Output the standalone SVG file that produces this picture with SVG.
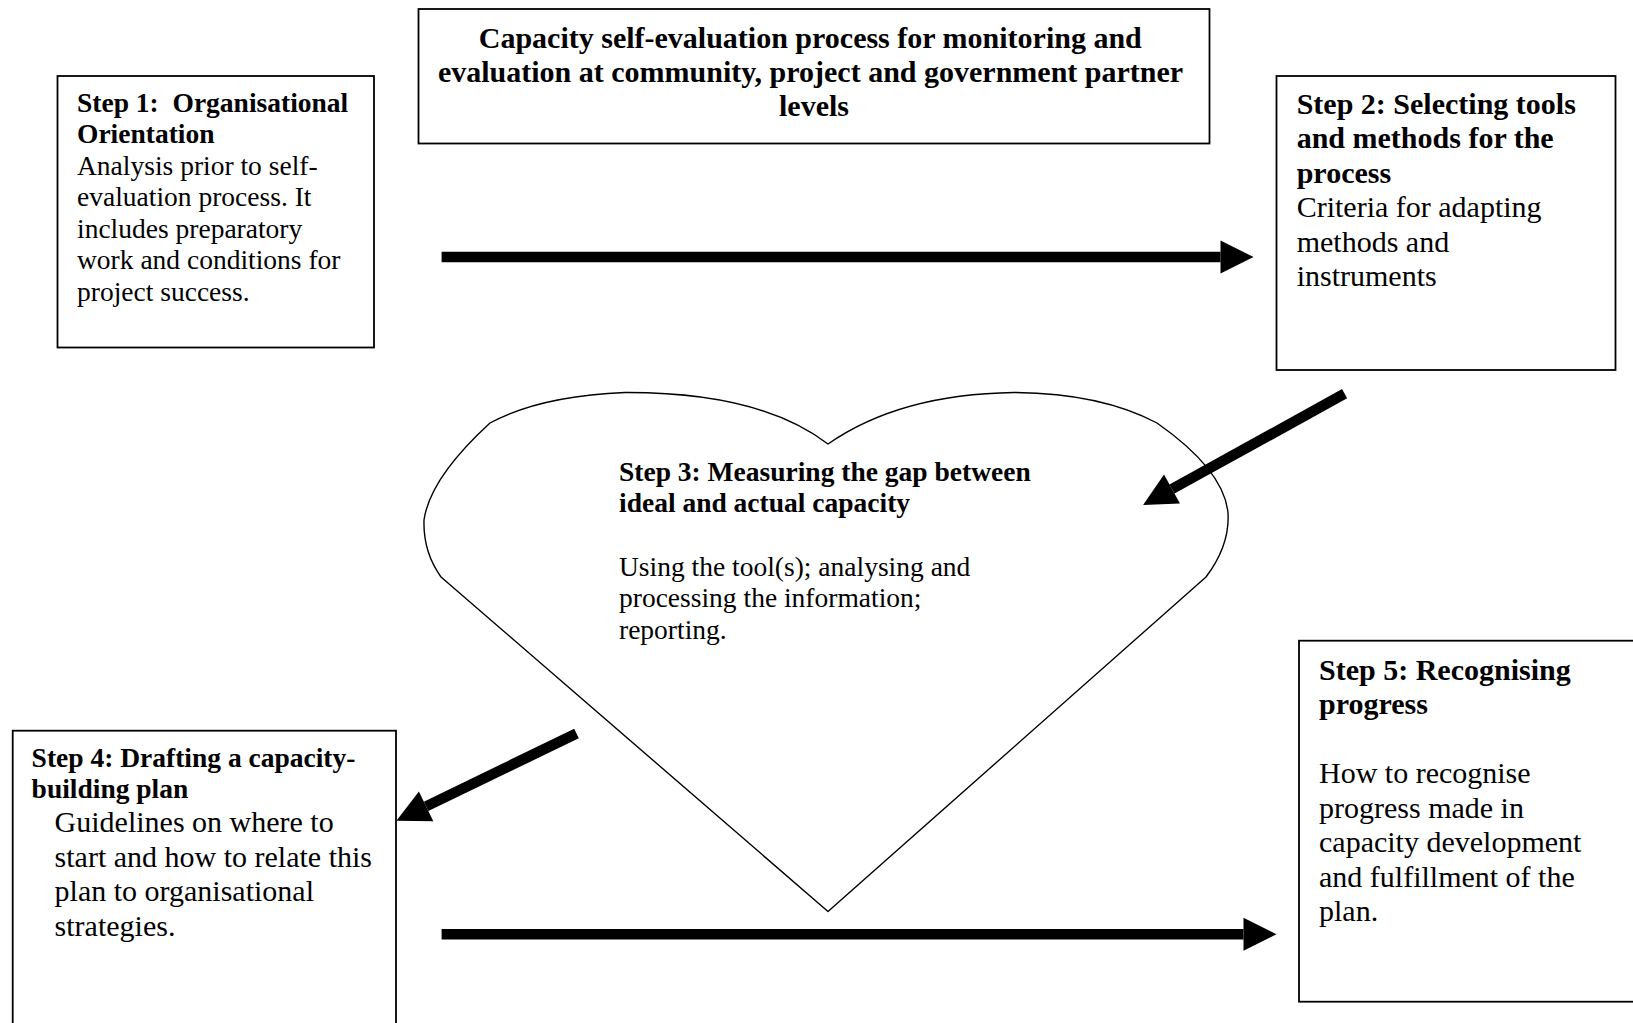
<svg xmlns="http://www.w3.org/2000/svg" width="1633" height="1023" viewBox="0 0 1633 1023">
<style>
  .box { fill: #ffffff; stroke: #000000; stroke-width: 1.8; }
  .heart { fill: #ffffff; stroke: #000000; stroke-width: 1.4; stroke-linejoin: round; }
  text { font-family: "Liberation Serif", "Times New Roman", serif; fill: #000000; }
  .b { font-weight: bold; }
  .s275 { font-size: 27.5px; }
  .s30 { font-size: 30px; }
  .conn { stroke: #000000; stroke-width: 10.5; fill: none; marker-end: url(#head); }
</style>
<defs>
  <marker id="head" markerUnits="userSpaceOnUse" markerWidth="34" markerHeight="34" refX="0" refY="16.5" orient="auto" viewBox="0 0 34 34" overflow="visible">
    <path d="M0,0 L33,16.5 L0,33 Z" fill="#000000"/>
  </marker>
</defs>
<rect width="1633" height="1023" fill="#ffffff"/>

<g id="title">
  <rect class="box" x="418.5" y="9" width="791" height="134.5"/>
  <text class="b s30" text-anchor="middle">
    <tspan x="814" y="47.5">Capacity self-evaluation process for monitoring and</tspan>
    <tspan x="814" y="81.5">evaluation at community, project and government partner</tspan>
    <tspan x="814" y="115.5">levels</tspan>
  </text>
</g>

<g id="step1">
  <rect class="box" x="57.5" y="76" width="316.5" height="271.5"/>
  <text class="s275">
    <tspan class="b" x="77" y="111.7">Step 1:&#160; Organisational</tspan>
    <tspan class="b" x="77" y="143.2">Orientation</tspan>
    <tspan x="77" y="174.7">Analysis prior to self-</tspan>
    <tspan x="77" y="206.2">evaluation process. It</tspan>
    <tspan x="77" y="237.7">includes preparatory</tspan>
    <tspan x="77" y="269.2">work and conditions for</tspan>
    <tspan x="77" y="300.7">project success.</tspan>
  </text>
</g>

<g id="step2">
  <rect class="box" x="1276.5" y="76" width="339" height="294"/>
  <text class="s30">
    <tspan class="b" x="1296.7" y="113.5">Step 2: Selecting tools</tspan>
    <tspan class="b" x="1296.7" y="148">and methods for the</tspan>
    <tspan class="b" x="1296.7" y="182.5">process</tspan>
    <tspan x="1296.7" y="217">Criteria for adapting</tspan>
    <tspan x="1296.7" y="251.5">methods and</tspan>
    <tspan x="1296.7" y="286">instruments</tspan>
  </text>
</g>

<g id="step3">
  <path class="heart" d="M828,444 Q760,392 625,392.5 Q540,396 490,423 Q430,478 424,520 Q423,552 441,577 L828,911.5 L1206,577 Q1230,545 1228,513 Q1224,470 1157,423 Q1100,393 1014,392.5 Q900,394 828,444 Z"/>
  <text class="s275">
    <tspan class="b" x="619" y="480.5">Step 3: Measuring the gap between</tspan>
    <tspan class="b" x="619" y="512">ideal and actual capacity</tspan>
    <tspan x="619" y="575.5">Using the tool(s); analysing and</tspan>
    <tspan x="619" y="607">processing the information;</tspan>
    <tspan x="619" y="638.5">reporting.</tspan>
  </text>
</g>

<g id="step4">
  <rect class="box" x="12.7" y="730.7" width="383.3" height="310"/>
  <text>
    <tspan class="b s275" x="31.6" y="767">Step 4: Drafting a capacity-</tspan>
    <tspan class="b s275" x="31.6" y="798">building plan</tspan>
    <tspan class="s30" x="54.6" y="832">Guidelines on where to</tspan>
    <tspan class="s30" x="54.6" y="866.5">start and how to relate this</tspan>
    <tspan class="s30" x="54.6" y="901">plan to organisational</tspan>
    <tspan class="s30" x="54.6" y="935.5">strategies.</tspan>
  </text>
</g>

<g id="step5">
  <rect class="box" x="1299" y="640.7" width="350" height="361"/>
  <text class="s30">
    <tspan class="b" x="1319" y="679.5">Step 5: Recognising</tspan>
    <tspan class="b" x="1319" y="714">progress</tspan>
    <tspan x="1319" y="783">How to recognise</tspan>
    <tspan x="1319" y="817.5">progress made in</tspan>
    <tspan x="1319" y="852">capacity development</tspan>
    <tspan x="1319" y="886.5">and fulfillment of the</tspan>
    <tspan x="1319" y="921">plan.</tspan>
  </text>
</g>

<g id="connectors">
  <line class="conn" x1="441.6" y1="257" x2="1220.5" y2="257"/>
  <line class="conn" x1="1344.6" y1="393.7" x2="1172" y2="489"/>
  <line class="conn" x1="576.5" y1="733.5" x2="426.1" y2="806.4"/>
  <line class="conn" x1="441.6" y1="934.3" x2="1243.5" y2="934.3"/>
</g>
</svg>
